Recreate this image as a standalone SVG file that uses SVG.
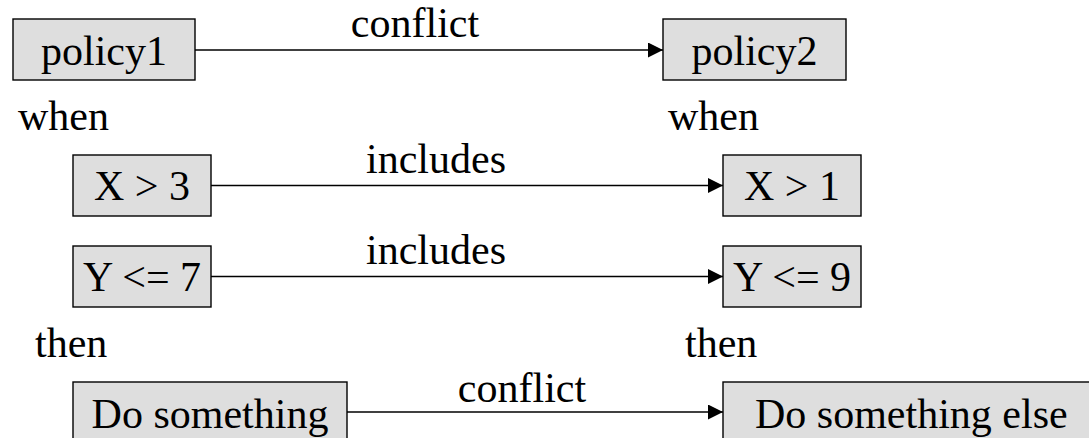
<svg xmlns="http://www.w3.org/2000/svg" width="1089" height="438" viewBox="0 0 1089 438">
<defs>
<style>
.box rect{fill:#dedede;stroke:#000;stroke-width:1.4}
text{font-family:"Liberation Serif","Times New Roman",serif;font-size:42px;fill:#000}
.c{text-anchor:middle}
.conn line{stroke:#000;stroke-width:1.5;marker-end:url(#arr)}
</style>
<marker id="arr" markerUnits="userSpaceOnUse" markerWidth="16" markerHeight="16" refX="15" refY="7.5" orient="auto">
<path d="M0,0 L15,7.5 L0,15 z" fill="#000"/>
</marker>
</defs>
<rect width="1089" height="438" fill="#fff"/>
<g id="policy1" class="box"><rect x="13" y="19" width="182" height="61"/><text class="c" x="104" y="65">policy1</text></g>
<g id="policy2" class="box"><rect x="663" y="19" width="183" height="61"/><text class="c" x="754.5" y="65">policy2</text></g>
<g id="x3" class="box"><rect x="73" y="155" width="138" height="61"/><text class="c" x="142" y="200">X &gt; 3</text></g>
<g id="x1" class="box"><rect x="723" y="155" width="138" height="61"/><text class="c" x="792" y="200">X &gt; 1</text></g>
<g id="y7" class="box"><rect x="73" y="246" width="138" height="61"/><text class="c" x="142" y="291">Y &lt;= 7</text></g>
<g id="y9" class="box"><rect x="723" y="246" width="138" height="61"/><text class="c" x="792" y="291">Y &lt;= 9</text></g>
<g id="do1" class="box"><rect x="73" y="382" width="274" height="62"/><text class="c" x="210" y="428">Do something</text></g>
<g id="do2" class="box"><rect x="723" y="382" width="380" height="62"/><text x="755" y="428">Do something else</text></g>
<g id="section-labels">
<text x="18" y="130">when</text>
<text x="668" y="130">when</text>
<text x="35" y="357">then</text>
<text x="685" y="357">then</text>
</g>
<g id="connectors" class="conn">
<line x1="195" y1="50" x2="663" y2="50"/>
<line x1="211" y1="185.5" x2="723" y2="185.5"/>
<line x1="211" y1="276.5" x2="723" y2="276.5"/>
<line x1="347" y1="412" x2="723" y2="412"/>
<text class="c" x="415" y="37">conflict</text>
<text class="c" x="436" y="173">includes</text>
<text class="c" x="436" y="264">includes</text>
<text class="c" x="522" y="402">conflict</text>
</g>
</svg>
